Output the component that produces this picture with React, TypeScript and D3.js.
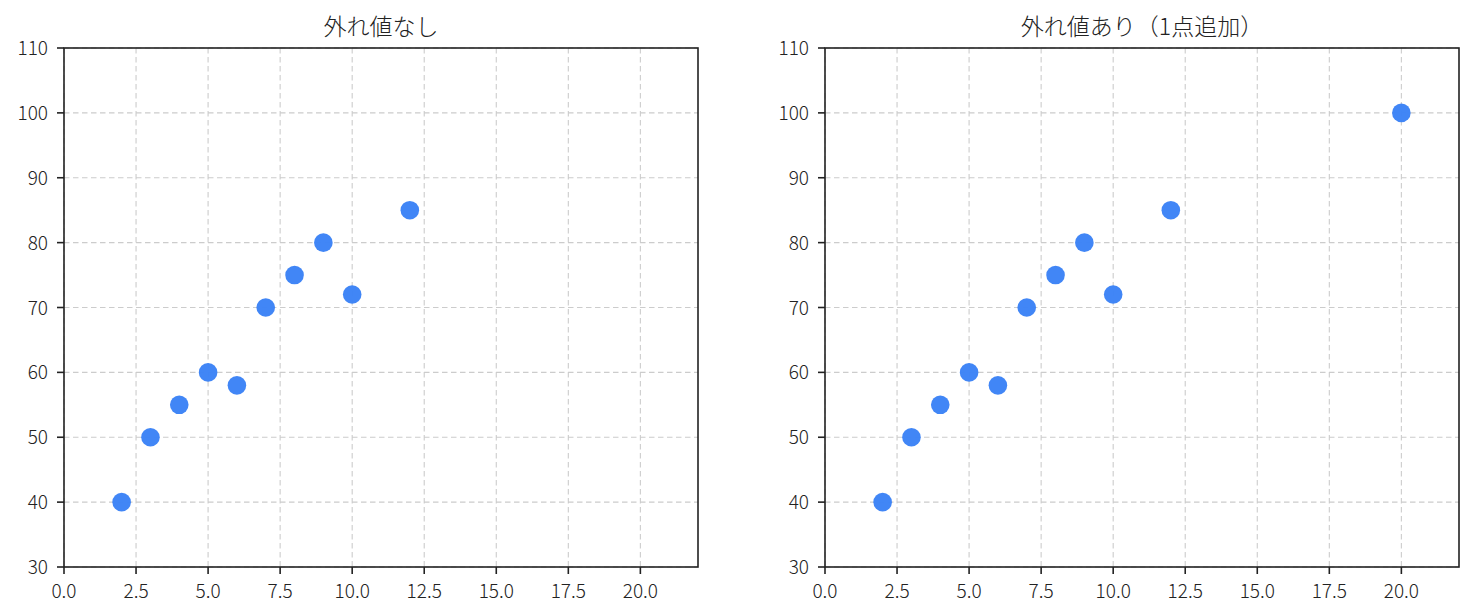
import React from "react";
import * as d3 from "d3";

const xBase = [2, 3, 4, 5, 6, 7, 8, 9, 10, 12];
const yBase = [40, 50, 55, 60, 58, 70, 75, 80, 72, 85];
const xOutlier = [20];
const yOutlier = [100];
const titles = ["外れ値なし", "外れ値あり（1点追加）"];
const xTicks = [0, 2.5, 5, 7.5, 10, 12.5, 15, 17.5, 20];
const yTicks = [30, 40, 50, 60, 70, 80, 90, 100, 110];

const W = 1474;
const H = 616;
const FONT = "'Noto Sans CJK JP', 'Noto Sans', sans-serif";
const panelLefts = [64, 825];
const panelWidth = 634;
const top = 48;
const bottom = 567;
const color = "#3b82f6";

function Panel({ left, title, xs, ys }: { left: number; title: string; xs: number[]; ys: number[] }) {
  const x = d3.scaleLinear().domain([0, 22]).range([left, left + panelWidth]);
  const y = d3.scaleLinear().domain([30, 110]).range([bottom, top]);
  const pts = xs.map((v, i) => [v, ys[i]]);
  return (
    <g>
      {xTicks.map((t) => (
        <line key={"gx" + t} x1={x(t)} x2={x(t)} y1={top} y2={bottom} stroke="#cccccc" strokeWidth={1.1} strokeDasharray="5.5,3.5" />
      ))}
      {yTicks.map((t) => (
        <line key={"gy" + t} x1={left} x2={left + panelWidth} y1={y(t)} y2={y(t)} stroke="#cccccc" strokeWidth={1.1} strokeDasharray="5.5,3.5" />
      ))}
      {pts.map(([a, b], i) => (
        <circle key={i} cx={x(a)} cy={y(b)} r={9.3} fill={color} fillOpacity={0.97} />
      ))}
      <rect x={left} y={top} width={panelWidth} height={bottom - top} fill="none" stroke="#222" strokeWidth={1.6} />
      {xTicks.map((t) => (
        <g key={"tx" + t}>
          <line x1={x(t)} x2={x(t)} y1={bottom} y2={bottom + 7} stroke="#222" strokeWidth={1.6} />
          <text x={x(t)} y={bottom + 31} textAnchor="middle" fontSize={19} fontWeight={300} fontFamily={FONT} fill="#222">
            {t.toFixed(1)}
          </text>
        </g>
      ))}
      {yTicks.map((t) => (
        <g key={"ty" + t}>
          <line x1={left - 7} x2={left} y1={y(t)} y2={y(t)} stroke="#222" strokeWidth={1.6} />
          <text x={left - 16} y={y(t) + 7} textAnchor="end" fontSize={19} fontWeight={300} fontFamily={FONT} fill="#222">
            {t}
          </text>
        </g>
      ))}
      <text x={left + panelWidth / 2} y={35} textAnchor="middle" fontSize={23} fontWeight={300} fontFamily={FONT} fill="#222">
        {title}
      </text>
    </g>
  );
}

export default function App() {
  return (
    <svg width={W} height={H} style={{ position: "absolute", left: 0, top: 0, background: "#fff" }}>
      <rect width={W} height={H} fill="#fff" />
      <Panel left={panelLefts[0]} title={titles[0]} xs={xBase} ys={yBase} />
      <Panel left={panelLefts[1]} title={titles[1]} xs={[...xBase, ...xOutlier]} ys={[...yBase, ...yOutlier]} />
    </svg>
  );
}
